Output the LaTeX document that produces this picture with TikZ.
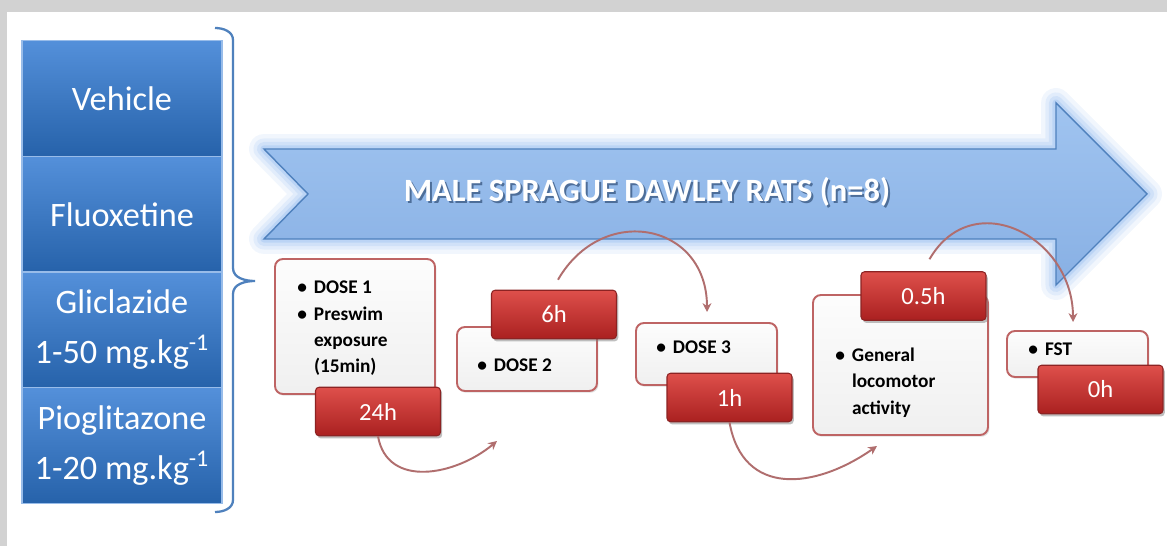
\documentclass[tikz,border=0pt]{standalone}
\usepackage{fontspec}
\setmainfont{Carlito}
\usetikzlibrary{arrows.meta,shadows}

\definecolor{grpbluetop}{RGB}{84,144,218}
\definecolor{grpbluebot}{RGB}{38,98,170}
\definecolor{bracecol}{RGB}{79,129,189}
\definecolor{ratstop}{RGB}{160,196,240}
\definecolor{ratsbot}{RGB}{136,176,228}
\definecolor{ratsline}{RGB}{79,129,189}
\definecolor{ratsglow}{RGB}{140,185,240}
\definecolor{ratsshadow}{RGB}{31,60,100}
\definecolor{cardline}{RGB}{190,100,100}
\definecolor{timetop}{RGB}{222,80,75}
\definecolor{timebot}{RGB}{170,32,32}
\definecolor{timeline}{RGB}{140,35,35}
\definecolor{linkcol}{RGB}{176,110,110}

\tikzset{
  group/.style={draw=grpbluetop!60!white, line width=0.6pt, top color=grpbluetop, bottom color=grpbluebot,
    text=white, minimum width=4cm, minimum height=2.32cm, align=center, font=\fontsize{19.5}{28.5}\selectfont},
  card/.style={draw=cardline, line width=1.1pt, rounded corners=4.5pt, top color=gray!2, bottom color=gray!12,
    drop shadow={shadow xshift=0.8pt, shadow yshift=-1pt, opacity=.25}},
  cardtext/.style={anchor=north west, inner sep=0pt, font=\bfseries\fontsize{11}{15}\selectfont},
  timebox/.style={draw=timeline, line width=0.6pt, rounded corners=2pt, top color=timetop, bottom color=timebot,
    text=white, minimum width=2.5cm, minimum height=0.97cm, font=\fontsize{14}{16}\selectfont,
    drop shadow={shadow xshift=1pt, shadow yshift=-1.5pt, opacity=.5}},
  link/.style={draw=linkcol, line width=1.1pt, -{Stealth[length=5pt,width=5pt]}}
}

\newcommand{\bl}{\textbullet}
\newcommand{\ratsarrow}{(264,149) -- (1056,149) -- (1056,103) -- (1147,194) -- (1056,285) -- (1056,239) -- (264,239) -- (308,194) -- cycle}

\begin{document}
\begin{tikzpicture}[x=0.02cm, y=-0.02cm]
  \useasboundingbox (0,0) rectangle (1167,546);

  % frame
  \fill[gray!35] (0,0) rectangle (1167,546);
  \fill[white] (7,12) rectangle (1167,546);

  % treatment groups
  \node[group] (vehicle) at (122,98.5) {Vehicle};
  \node[group] (fluox) at (122,214.5) {Fluoxetine};
  \node[group] (glic) at (122,330) {Gliclazide\\1-50 mg.kg\textsuperscript{-1}};
  \node[group] (piog) at (122,445.5) {Pioglitazone\\1-20 mg.kg\textsuperscript{-1}};

  % brace
  \draw[bracecol, line width=1.3pt] (215,28) to[out=0,in=90] (233,40) -- (233,268)
    to[out=-90,in=180] (255,281) to[out=180,in=90] (233,294) -- (233,500) to[out=-90,in=0] (215,512);

  % big arrow with glow
  \draw[ratsglow, line width=17pt, opacity=.12, line join=round] \ratsarrow;
  \draw[ratsglow, line width=12pt, opacity=.15, line join=round] \ratsarrow;
  \draw[ratsglow, line width=8pt, opacity=.2, line join=round] \ratsarrow;
  \draw[ratsglow, line width=4pt, opacity=.3, line join=round] \ratsarrow;
  \draw[ratsline, line width=0.8pt, top color=ratstop, bottom color=ratsbot] \ratsarrow;

  \node[anchor=base, font=\bfseries\fontsize{18.5}{20}\selectfont, text=ratsshadow, opacity=.6] (ratsback) at (649,204) {MALE SPRAGUE DAWLEY RATS (n=8)};
  \node[anchor=base, font=\bfseries\fontsize{18.5}{20}\selectfont, text=white] (rats) at (647,202) {MALE SPRAGUE DAWLEY RATS (n=8)};

  % cards
  \node[card, minimum width=3.2cm, minimum height=2.7cm] (dose1) at (355,326.5) {};
  \node[card, minimum width=2.8cm, minimum height=1.28cm] (dose2) at (527,359) {};
  \node[card, minimum width=2.82cm, minimum height=1.24cm] (dose3) at (706.5,354) {};
  \node[card, minimum width=3.5cm, minimum height=2.8cm] (loco) at (900.5,365) {};
  \node[card, minimum width=2.82cm, minimum height=0.92cm] (fst) at (1077.5,354) {};

  \node[cardtext] (dose1txt) at (297,275) {\begin{tabular}{@{}l@{\hspace{4pt}}l@{}}\bl & DOSE 1\\ \bl & Preswim\\ & exposure\\ & (15min)\end{tabular}};
  \node[cardtext] (dose2txt) at (477,353) {\begin{tabular}{@{}l@{\hspace{4pt}}l@{}}\bl & DOSE 2\end{tabular}};
  \node[cardtext] (dose3txt) at (656,335) {\begin{tabular}{@{}l@{\hspace{4pt}}l@{}}\bl & DOSE 3\end{tabular}};
  \node[cardtext] (locotxt) at (835,342.5) {\begin{tabular}{@{}l@{\hspace{4pt}}l@{}}\bl & General\\ & locomotor\\ & activity\end{tabular}};
  \node[cardtext] (fsttxt) at (1028,336.5) {\begin{tabular}{@{}l@{\hspace{4pt}}l@{}}\bl & FST\end{tabular}};

  % times
  \node[timebox] (t24) at (378,411.5) {24h};
  \node[timebox] (t6) at (554,314.5) {6h};
  \node[timebox] (t1) at (729.5,397.5) {1h};
  \node[timebox] (t05) at (923.5,296) {0.5h};
  \node[timebox] (t0) at (1100.5,389.5) {0h};

  % links
  \coordinate (e1) at (497,441);
  \coordinate (e2) at (707,312);
  \coordinate (e3) at (877,446);
  \coordinate (e4) at (1073,322);
  \draw[link] (t24.south) to[out=-80,in=-140,looseness=1.15] (e1);
  \draw[link] ([shift={(4,-10)}]t6.north) to[out=60,in=90,looseness=1.5] (e2);
  \draw[link] (t1.south) to[out=-80,in=-145,looseness=1.3] (e3);
  \draw[link] ([shift={(6,-12)}]t05.north) to[out=60,in=90,looseness=1.4] (e4);
\end{tikzpicture}
\end{document}
